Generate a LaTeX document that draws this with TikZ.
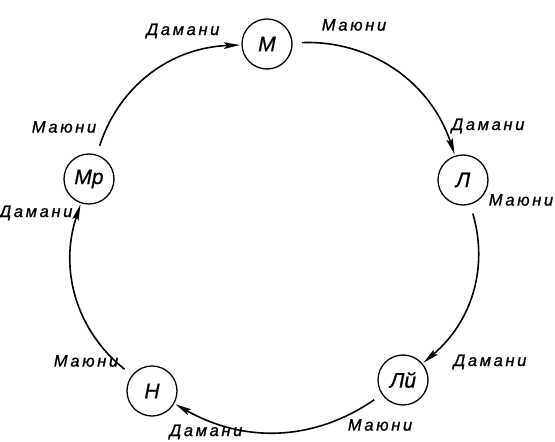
\documentclass[tikz,border=0pt]{standalone}
\usepackage{fontspec}
\setmainfont{Liberation Sans}
\newfontfamily\labfont[LetterSpace=16,FakeBold=1]{Liberation Sans}
\newfontfamily\stfont[FakeBold=0.8]{Liberation Sans}
\usetikzlibrary{arrows.meta}
\begin{document}
\begin{tikzpicture}[x=1pt,y=1pt,
  st/.style={draw, circle, line width=1.3pt, minimum size=50pt, inner sep=0pt, outer sep=2pt, font=\fontsize{21}{21}\selectfont\stfont\itshape},
  lab/.style={font=\fontsize{16.5}{16.5}\selectfont\labfont\itshape, inner sep=0pt},
  arr/.style={line width=1.6pt, shorten <=8pt, -{Stealth[length=16pt,width=6.5pt,inset=3pt]}}]
\useasboundingbox (0,0) rectangle (555,442);
\node[st] (M)  at (267,398) {М};
\node[st] (L)  at (463,262) {Л};
\node[st] (Ly) at (403,62) {Лй};
\node[st] (N)  at (152,51) {Н};
\node[st] (Mr) at (89,263) {Мр};
\draw[arr] (M) to[bend left=37] (L);
\draw[arr] (L) to[bend left=33] (Ly);
\draw[arr] (Ly) to[bend left=32] (N);
\draw[arr] (N) to[bend left=35] (Mr);
\draw[arr] (Mr) to[bend left=35] (M);
\node[lab] (d1) at (183,411) {Дамани};
\node[lab] (m1) at (354,417) {Маюни};
\node[lab] (d2) at (488,316) {Дамани};
\node[lab] (m2) at (521,242) {Маюни};
\node[lab] (d3) at (490,80) {Дамани};
\node[lab] (m3) at (380,17) {Маюни};
\node[lab] (d4) at (206,10) {Дамани};
\node[lab] (m4) at (86,81) {Маюни};
\node[lab] (m5) at (64,315) {Маюни};
\node[lab] (d5) at (36,229) {Дамани};
\end{tikzpicture}
\end{document}
